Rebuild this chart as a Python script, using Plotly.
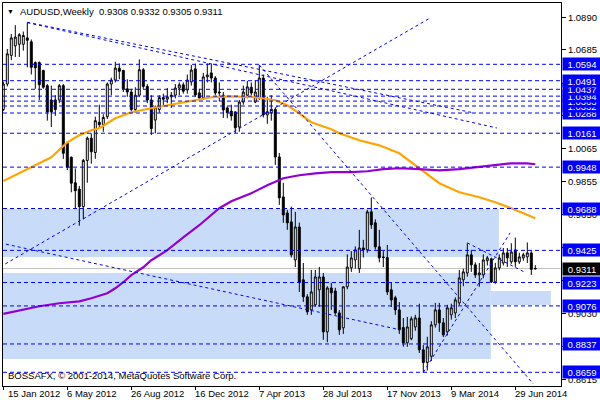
import plotly.graph_objects as go
import pandas as pd

# ---------------- data ----------------
week0 = pd.Timestamp("2012-01-15")

opens = [1.0310,1.0470,1.0650,1.0710,1.0720,1.0720,1.0760,1.0735,1.0605,1.0605,
         1.0555,1.0460,1.0370,1.0370,1.0370,1.0460,1.0098,1.0010,0.9850,0.9810,
         0.9700,0.9990,1.0130,1.0040,1.0230,1.0215,1.0265,1.0470,1.0495,1.0570,
         1.0555,1.0440,1.0420,1.0310,1.0400,1.0560,1.0455,1.0370,1.0244,1.0310,
         1.0385,1.0375,1.0390,1.0400,1.0445,1.0465,1.0433,1.0483,1.0565,1.0414,
         1.0383,1.0515,1.0540,1.0508,1.0420,1.0400,1.0320,1.0300,1.0295,1.0200,
         1.0357,1.0400,1.0450,1.0357,1.0383,1.0508,1.0276,1.0290,1.0310,1.0012,
         0.9761,0.9660,0.9604,0.9365,0.9572,0.9240,0.9133,0.9051,0.9083,0.9177,
         0.9258,0.8913,0.9189,0.9170,0.9032,0.8938,0.9196,0.9315,0.9365,0.9310,
         0.9440,0.9428,0.9667,0.9598,0.9447,0.9384,0.9380,0.9177,0.9127,0.9051,
         0.8940,0.8844,0.8870,0.8944,0.9000,0.8800,0.8720,0.8760,0.8957,0.9051,
         0.8970,0.8913,0.9020,0.9032,0.9095,0.9240,0.9283,0.9397,0.9334,0.9271,
         0.9271,0.9360,0.9372,0.9227,0.9315,0.9346,0.9409,0.9353,0.9428,0.9353,
         0.9378,0.9384,0.9409,0.9308]
highs = [1.0485,1.0690,1.0785,1.0840,1.0790,1.0800,1.0857,1.0750,1.0612,1.0612,
         1.0560,1.0470,1.0460,1.0400,1.0470,1.0470,1.0110,1.0015,0.9940,0.9830,
         1.0000,1.0140,1.0160,1.0265,1.0340,1.0280,1.0480,1.0510,1.0610,1.0600,
         1.0560,1.0500,1.0440,1.0450,1.0625,1.0570,1.0470,1.0400,1.0335,1.0400,
         1.0410,1.0445,1.0420,1.0470,1.0480,1.0480,1.0530,1.0590,1.0598,1.0440,
         1.0540,1.0600,1.0597,1.0520,1.0480,1.0420,1.0330,1.0340,1.0300,1.0370,
         1.0460,1.0490,1.0480,1.0495,1.0590,1.0530,1.0390,1.0400,1.0320,1.0037,
         0.9849,0.9679,0.9700,0.9667,0.9600,0.9346,0.9150,0.9302,0.9302,0.9321,
         0.9283,0.9200,0.9221,0.9190,0.9050,0.9200,0.9400,0.9420,0.9450,0.9554,
         0.9491,0.9680,0.9757,0.9620,0.9554,0.9420,0.9459,0.9221,0.9140,0.9100,
         0.9000,0.9007,0.9010,0.9020,0.9090,0.8830,0.8882,0.8980,0.9095,0.9095,
         0.9000,0.9083,0.9090,0.9130,0.9302,0.9310,0.9470,0.9428,0.9350,0.9346,
         0.9400,0.9390,0.9380,0.9346,0.9400,0.9440,0.9440,0.9470,0.9505,0.9410,
         0.9410,0.9475,0.9420,0.9332]
lows = [1.0300,1.0455,1.0620,1.0640,1.0640,1.0680,1.0575,1.0530,1.0440,1.0370,
        1.0440,1.0240,1.0200,1.0270,1.0350,1.0000,0.9930,0.9790,0.9690,0.9580,
        0.9620,0.9850,0.9970,1.0000,1.0190,1.0170,1.0250,1.0400,1.0480,1.0500,
        1.0420,1.0390,1.0300,1.0290,1.0390,1.0440,1.0350,1.0150,1.0160,1.0290,
        1.0330,1.0350,1.0320,1.0380,1.0400,1.0410,1.0410,1.0460,1.0390,1.0370,
        1.0370,1.0480,1.0480,1.0400,1.0360,1.0257,1.0255,1.0240,1.0163,1.0170,
        1.0340,1.0380,1.0400,1.0350,1.0370,1.0260,1.0220,1.0240,0.9962,0.9711,
        0.9598,0.9554,0.9380,0.9320,0.9164,0.9101,0.9020,0.9020,0.9070,0.9070,
        0.8863,0.8848,0.9051,0.9020,0.8894,0.8900,0.9180,0.9290,0.9310,0.9283,
        0.9380,0.9410,0.9560,0.9430,0.9350,0.9320,0.9145,0.9070,0.9020,0.8900,
        0.8820,0.8819,0.8860,0.8920,0.8780,0.8659,0.8670,0.8730,0.8940,0.8913,
        0.8880,0.8890,0.8990,0.9000,0.9080,0.9200,0.9260,0.9290,0.9252,0.9196,
        0.9250,0.9330,0.9220,0.9215,0.9300,0.9330,0.9321,0.9340,0.9321,0.9340,
        0.9360,0.9346,0.9271,0.9305]
closes = [1.0470,1.0660,1.0760,1.0765,1.0780,1.0775,1.0745,1.0575,1.0572,1.0465,
          1.0450,1.0295,1.0295,1.0310,1.0460,1.0035,0.9947,0.9847,0.9800,0.9700,
          0.9990,1.0130,1.0045,1.0240,1.0215,1.0260,1.0470,1.0495,1.0570,1.0550,
          1.0440,1.0420,1.0310,1.0400,1.0560,1.0455,1.0370,1.0190,1.0325,1.0385,
          1.0375,1.0390,1.0400,1.0445,1.0465,1.0425,1.0495,1.0558,1.0401,1.0383,
          1.0515,1.0527,1.0508,1.0414,1.0415,1.0307,1.0290,1.0270,1.0195,1.0357,
          1.0420,1.0452,1.0414,1.0420,1.0508,1.0276,1.0296,1.0310,1.0012,0.9755,
          0.9648,0.9598,0.9397,0.9572,0.9227,0.9133,0.9039,0.9164,0.9258,0.9258,
          0.8913,0.9189,0.9158,0.9032,0.8926,0.9196,0.9320,0.9378,0.9428,0.9440,
          0.9428,0.9667,0.9585,0.9447,0.9378,0.9380,0.9164,0.9114,0.9051,0.8926,
          0.8844,0.8944,0.8995,0.9001,0.8800,0.8720,0.8819,0.8957,0.9051,0.8970,
          0.8894,0.9064,0.9064,0.9114,0.9252,0.9290,0.9397,0.9334,0.9271,0.9283,
          0.9365,0.9378,0.9227,0.9315,0.9378,0.9409,0.9378,0.9415,0.9353,0.9384,
          0.9397,0.9409,0.9306,0.9311]

# moving averages (bar index, value)
ma_fast_bars = [0, 7, 12, 16, 19, 22, 24, 28, 32, 37, 41, 45, 49, 52, 57, 63, 68, 71,
                74, 77, 82, 84, 89, 94, 99, 104, 109, 114, 119, 123, 127, 133]
ma_fast_vals = [0.9861, 0.9947, 1.0010, 1.0104, 1.0148, 1.0180, 1.0192, 1.0255, 1.0293,
                1.0318, 1.0337, 1.0355, 1.0374, 1.0387, 1.0393, 1.0387, 1.0368, 1.0337,
                1.0286, 1.0230, 1.0186, 1.0161, 1.0117, 1.0085, 1.0035, 0.9941, 0.9847,
                0.9790, 0.9759, 0.9727, 0.9690, 0.9627]
ma_slow_bars = [0, 4, 9, 14, 19, 22, 26, 28, 30, 32, 35, 37, 41, 45, 49, 54, 57, 62,
                66, 70, 74, 78, 82, 87, 91, 95, 99, 104, 109, 114, 118, 122, 127, 131, 133]
ma_slow_vals = [0.9026, 0.9049, 0.9074, 0.9093, 0.9105, 0.9124, 0.9156, 0.9187, 0.9225,
                0.9269, 0.9319, 0.9363, 0.9426, 0.9507, 0.9583, 0.9690, 0.9734, 0.9784,
                0.9834, 0.9878, 0.9897, 0.9909, 0.9916, 0.9916, 0.9922, 0.9935, 0.9941,
                0.9935, 0.9928, 0.9935, 0.9947, 0.9960, 0.9972, 0.9972, 0.9966]

levels = [1.0594, 1.0491, 1.0437, 1.0394, 1.0363, 1.0332, 1.0288, 1.0161,
          0.9948, 0.9688, 0.9425, 0.9223, 0.9076, 0.8837, 0.8659]
last_price = 0.9311

# zones: (start bar, end bar, top, bottom)
zone_start = [-0.075, -0.075, 121.9]
zone_end = [123.9, 121.9, 136.9]
zone_top = [0.9685, 0.9283, 0.9170]
zone_bottom = [0.9383, 0.8743, 0.9082]

# trend lines: (bar0, price0, bar1, price1)
trend_lines = [
    (-0.8, 0.9321, 106.7, 1.0885),
    (6.0, 1.0858, 117.4, 1.0290),
    (6.0, 1.0856, 123.4, 1.0194),
    (-0.8, 0.9472, 99.2, 0.8926),
    (64.0, 1.0590, 132.5, 0.8586),
    (105.0, 0.8659, 126.7, 0.9535),
    (116.0, 0.9472, 130.2, 0.9290),
]

y_ticks = [1.0890, 1.0685, 1.0474, 1.0270, 1.0065, 0.9855, 0.9650, 0.9440,
           0.9235, 0.9030, 0.8820, 0.8615]
x_tick_bars = [0, 16, 32, 48, 64, 80, 96, 112, 128]
x_tick_labels = ["15 Jan 2012", "6 May 2012", "26 Aug 2012", "16 Dec 2012", "7 Apr 2013",
                 "28 Jul 2013", "17 Nov 2013", "9 Mar 2014", "29 Jun 2014"]

y_range = [0.85729, 1.09792]
x_range_bars = [-0.075, 139.425]


def bar_date(i):
    return week0 + pd.Timedelta(days=7 * i)


dates = [bar_date(i) for i in range(len(opens))]

FONT = "Liberation Sans, Arial, sans-serif"
FS = 9.5
BLUE = "#0000FF"

fig = go.Figure()

fig.add_trace(go.Candlestick(
    x=dates, open=opens, high=highs, low=lows, close=closes,
    increasing=dict(line=dict(color="black", width=1), fillcolor="white"),
    decreasing=dict(line=dict(color="black", width=1), fillcolor="black"),
    whiskerwidth=0, showlegend=False, hoverinfo="skip"))

fig.add_trace(go.Scatter(x=[bar_date(i) for i in ma_fast_bars], y=ma_fast_vals,
                         mode="lines", line=dict(color="#FFA500", width=2.2),
                         showlegend=False, hoverinfo="skip"))
fig.add_trace(go.Scatter(x=[bar_date(i) for i in ma_slow_bars], y=ma_slow_vals,
                         mode="lines", line=dict(color="#9400D3", width=2.2),
                         showlegend=False, hoverinfo="skip"))

for (b0, p0, b1, p1) in trend_lines:
    fig.add_trace(go.Scatter(x=[bar_date(b0), bar_date(b1)], y=[p0, p1], mode="lines",
                             line=dict(color=BLUE, width=1, dash="3px,3px"),
                             showlegend=False, hoverinfo="skip"))

shapes = []
for s, e, t, b in zip(zone_start, zone_end, zone_top, zone_bottom):
    shapes.append(dict(type="rect", xref="x", yref="y", x0=bar_date(s), x1=bar_date(e),
                       y0=b, y1=t, fillcolor="rgb(200,220,250)", line=dict(width=0),
                       layer="below"))
shapes.append(dict(type="line", xref="paper", yref="y", x0=0, x1=1, y0=last_price,
                   y1=last_price, line=dict(color="#C0C0C0", width=1), layer="below"))
for lv in levels:
    shapes.append(dict(type="line", xref="paper", yref="y", x0=0, x1=1, y0=lv, y1=lv,
                       line=dict(color=BLUE, width=1, dash="4px,3px"), layer="above"))

annotations = []
# level labels (drawn lowest first so higher ones sit on top)
for lv in sorted(levels):
    annotations.append(dict(xref="paper", yref="y", x=1, y=lv, xanchor="left",
                            yanchor="middle", xshift=1, text=f"{lv:.4f}", showarrow=False,
                            bgcolor=BLUE, font=dict(color="white", size=FS, family=FONT),
                            width=36, height=10, borderpad=1, align="center"))
annotations.append(dict(xref="paper", yref="y", x=1, y=last_price, xanchor="left",
                        yanchor="middle", xshift=1, text=f"{last_price:.4f}", showarrow=False,
                        bgcolor="black", font=dict(color="white", size=FS, family=FONT),
                        width=36, height=10, borderpad=1, align="center"))
# title
annotations.append(dict(xref="paper", yref="paper", x=0, y=1, xanchor="left",
                        yanchor="middle", xshift=2, yshift=-8, text="▼", showarrow=False,
                        font=dict(color="black", size=7, family=FONT)))
annotations.append(dict(xref="paper", yref="paper", x=0, y=1, xanchor="left",
                        yanchor="middle", xshift=15, yshift=-8,
                        text="AUDUSD,Weekly\u00a0\u00a00.9308 0.9332 0.9305 0.9311",
                        showarrow=False, font=dict(color="black", size=FS, family=FONT)))
annotations.append(dict(xref="paper", yref="paper", x=0, y=0, xanchor="left",
                        yanchor="middle", xshift=3, yshift=11,
                        text="BOSSAFX, © 2001-2014, MetaQuotes Software Corp.",
                        showarrow=False, font=dict(color="black", size=FS, family=FONT)))
for k, (b, lab) in enumerate(zip(x_tick_bars, x_tick_labels)):
    annotations.append(dict(xref="x", yref="paper", x=bar_date(b), y=0, xanchor="left",
                            yanchor="top", xshift=(3 if k == 0 else -2), yshift=0,
                            text=lab, showarrow=False,
                            font=dict(color="black", size=FS, family=FONT)))

fig.update_layout(
    width=600, height=400,
    margin=dict(l=3, r=39, t=3, b=14),
    paper_bgcolor="white", plot_bgcolor="white",
    shapes=shapes, annotations=annotations,
    font=dict(family=FONT, size=FS, color="black"),
    xaxis=dict(type="date", range=[bar_date(x_range_bars[0]), bar_date(x_range_bars[1])],
               rangeslider=dict(visible=False), showgrid=False, zeroline=False,
               showline=True, mirror=True, linecolor="black", linewidth=1,
               tickvals=[bar_date(b) for b in x_tick_bars], ticktext=[""] * len(x_tick_bars),
               ticks="outside", ticklen=3, tickcolor="black", showticklabels=False),
    yaxis=dict(range=y_range, side="right", showgrid=False, zeroline=False,
               showline=True, mirror=True, linecolor="black", linewidth=1,
               tickvals=y_ticks, tickformat=".4f", ticks="outside", ticklen=4,
               tickcolor="black", tickfont=dict(size=FS, family=FONT, color="black")),
)

fig.write_html("out.html", config={"displayModeBar": False},
               post_script="document.body.style.margin='0px';")
